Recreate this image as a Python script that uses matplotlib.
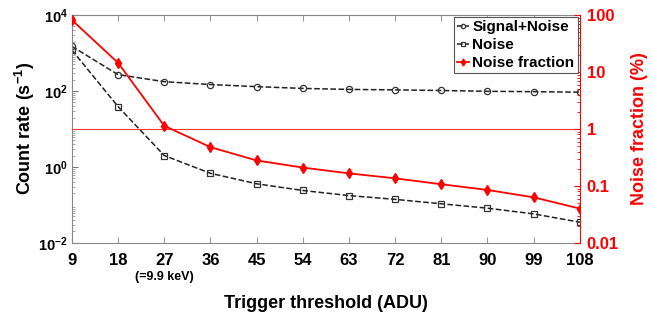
import numpy as np
import matplotlib
matplotlib.use("Agg")
import matplotlib.pyplot as plt
from matplotlib.ticker import LogLocator, FixedLocator, FixedFormatter, NullFormatter

plt.rcParams['font.family'] = ['Liberation Sans', 'DejaVu Sans']
plt.rcParams['font.weight'] = 'bold'
plt.rcParams['mathtext.fontset'] = 'custom'
plt.rcParams['mathtext.rm'] = 'Liberation Sans:bold'
plt.rcParams['mathtext.bf'] = 'Liberation Sans:bold'
plt.rcParams['mathtext.default'] = 'bf'

# データ
threshold = [9, 18, 27, 36, 45, 54, 63, 72, 81, 90, 99, 108]
signal_noise = [1500, 270, 176, 148, 130, 117, 110, 107, 103, 98, 96, 93]
noise = [1200, 39, 2.0, 0.68, 0.36, 0.24, 0.176, 0.14, 0.107, 0.082, 0.058, 0.035]
noise_fraction = [82, 14.5, 1.14, 0.48, 0.28, 0.21, 0.166, 0.136, 0.107, 0.085, 0.063, 0.040]

fig = plt.figure(figsize=(6.53, 3.2), dpi=100)
ax = fig.add_axes([0.110, 0.241, 0.778, 0.712])
ax2 = ax.twinx()

# 左軸: カウントレート
l1, = ax.plot(threshold, signal_noise, '--', color='#222222', lw=1.1,
              marker='o', ms=4.5, mfc='none', mec='#333333', mew=0.9,
              label='Signal+Noise')
l2, = ax.plot(threshold, noise, '--', color='#222222', lw=1.1,
              marker='s', ms=4.0, mfc='none', mec='#333333', mew=0.9,
              label='Noise')
ax.set_yscale('log')
ax.set_ylim(1e-2, 1e4)
ax.set_xlim(9, 108)
ax.set_xticks(threshold)
ax.set_yticks([1e-2, 1, 1e2, 1e4])
ax.yaxis.set_minor_locator(LogLocator(base=10, subs=np.arange(2, 10), numticks=20))
ax.yaxis.set_minor_formatter(NullFormatter())
ax.tick_params(axis='both', which='both', direction='in', colors='black', top=True)
ax.tick_params(axis='x', labelsize=12, pad=7)
ax.tick_params(axis='y', labelsize=10.5, pad=3)
ax.tick_params(axis='y', which='major', length=4, color='#777777')
ax.tick_params(axis='y', which='minor', length=2, color='#999999')
ax.tick_params(axis='x', which='major', length=4, color='#999999')
for s in ['left', 'top', 'bottom']:
    ax.spines[s].set_color('#888888')
ax.spines['right'].set_visible(False)

# 右軸: ノイズ比
l3, = ax2.plot(threshold, noise_fraction, '-', color='red', lw=1.3,
               marker='d', ms=5, mfc='red', mec='red', label='Noise fraction')
ax2.plot([9, 108], [1, 1], '-', color='#ff3333', lw=0.8, zorder=1)
ax2.set_yscale('log')
ax2.set_ylim(0.01, 100)
ax2.yaxis.set_major_locator(FixedLocator([0.01, 0.1, 1, 10, 100]))
ax2.yaxis.set_major_formatter(FixedFormatter(['0.01', '0.1', '1', '10', '100']))
ax2.yaxis.set_minor_locator(LogLocator(base=10, subs=np.arange(2, 10), numticks=20))
ax2.yaxis.set_minor_formatter(NullFormatter())
ax2.tick_params(axis='y', which='both', direction='in', colors='red', labelsize=12, pad=5)
ax2.tick_params(axis='y', which='major', length=4)
ax2.tick_params(axis='y', which='minor', length=2)
ax2.spines['right'].set_color('red')
for s in ['left', 'top', 'bottom']:
    ax2.spines[s].set_visible(False)

# ラベル
ax.set_xlabel('Trigger threshold (ADU)', fontsize=13, fontweight='bold', labelpad=20)
ax.set_ylabel('Count rate (s$^{-1}$)', fontsize=13, fontweight='bold')
ax.yaxis.set_label_coords(-0.068, 0.5)
ax2.set_ylabel('Noise fraction (%)', fontsize=13, fontweight='bold', color='red', labelpad=9)
ax.text(27, -0.15, '(=9.9 keV)', transform=ax.get_xaxis_transform(),
        ha='center', va='center', fontsize=9, fontweight='bold')

leg = ax2.legend(handles=[l1, l2, l3], loc='upper right', fontsize=11,
                 handlelength=0.8, handletextpad=0.2, borderpad=0.2,
                 labelspacing=0.25, borderaxespad=0.15, fancybox=False,
                 framealpha=1, edgecolor='#555555', markerscale=0.7)
leg.get_frame().set_linewidth(0.8)

plt.savefig('out.png', dpi=100)
